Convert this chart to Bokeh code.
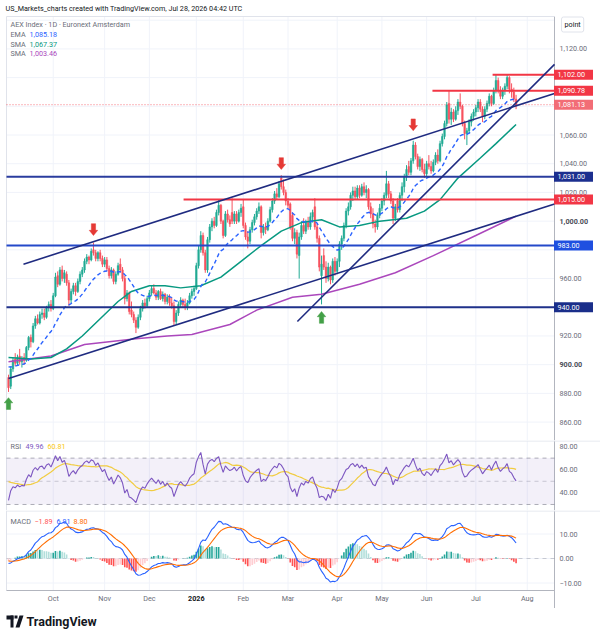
from bokeh.plotting import figure
from bokeh.layouts import column
from bokeh.models import (Range1d, Label, BoxAnnotation, PolyAnnotation, ColumnDataSource)
from bokeh.core.properties import value
from bokeh.embed import file_html
from bokeh.resources import INLINE

# ---------------- data (daily bars, Sep 2025 - Jul 2026) ----------------
open_ = [
    891, 885, 897, 904, 901, 906, 902, 905, 903, 912, 919, 916, 927, 932, 929, 935, 936, 933, 940, 942,
    939, 948, 962, 956, 966, 960, 963, 957, 945, 951, 955, 951, 958, 963, 966, 972, 975, 973, 980, 978, 974, 978, 974,
    970, 973, 967, 962, 966, 958, 963, 970, 966, 960, 946, 950, 938, 935, 931, 926, 933, 939, 943, 941,
    946, 950, 953, 950, 947, 951, 946, 949, 944, 947, 943, 941, 930, 936, 942, 945, 942, 940, 943, 948, 951,
    953, 969, 980, 990, 978, 966, 987, 996, 1000, 997, 1006, 1011, 1000, 990, 1005, 1001, 1006, 1000, 1005, 1000, 1006,
    1010, 997, 989, 986, 994, 999, 1003, 1007, 1010, 992, 996, 994, 1000, 1008, 1014, 1019, 1017, 1030, 1024, 1020,
    1014, 1012, 1004, 988, 992, 976, 989, 997, 993, 999, 996, 1003, 1010, 996, 988, 962, 976, 968, 960, 968, 959, 972,
    965, 972, 984, 988, 997, 1007, 1010, 1018, 1021, 1017, 1023, 1018, 1024, 1020, 1022, 1010, 1005, 998, 996, 1004,
    1009, 1014, 1018, 1026, 1019, 1014, 1002, 1014, 1008, 1018, 1024, 1031, 1038, 1034, 1042, 1053, 1045, 1038, 1043, 1036,
    1033, 1040, 1038, 1035, 1041, 1046, 1042, 1054, 1059, 1068, 1082, 1071, 1076, 1071, 1077, 1083, 1080, 1068, 1061, 1063, 1069, 1073,
    1076, 1079, 1083, 1078, 1073, 1078, 1082, 1087, 1082, 1091, 1098, 1091, 1087, 1091, 1094, 1100, 1092, 1090, 1085,
]
high = [
    893, 899, 905, 908, 907, 911, 906, 908, 913, 920, 921, 929, 934, 935, 937, 939, 939, 941, 944, 945,
    950, 964, 965, 968, 969, 966, 965, 959, 953, 957, 957, 960, 965, 968, 974, 977, 976, 981, 985, 980, 979, 980, 976,
    975, 975, 969, 968, 967, 965, 971, 974, 968, 962, 952, 951, 944, 937, 933, 935, 941, 945, 946, 948,
    952, 955, 956, 952, 952, 953, 951, 950, 949, 949, 947, 944, 938, 944, 947, 946, 946, 945, 950, 953, 955,
    971, 983, 993, 992, 980, 989, 998, 1002, 1003, 1008, 1015, 1012, 1001, 1007, 1008, 1004, 1016, 1007, 1007, 1008, 1012,
    1015, 999, 993, 996, 1001, 1005, 1009, 1013, 1011, 998, 999, 1002, 1010, 1016, 1021, 1023, 1028, 1032, 1029, 1022,
    1016, 1013, 1006, 995, 994, 992, 1000, 1002, 1001, 1003, 1006, 1008, 1016, 998, 990, 976, 981, 972, 971, 969, 974, 975,
    974, 986, 990, 999, 1009, 1013, 1020, 1024, 1024, 1025, 1025, 1026, 1027, 1025, 1023, 1013, 1009, 1001, 1006, 1012,
    1016, 1020, 1035, 1028, 1021, 1016, 1012, 1016, 1020, 1027, 1033, 1039, 1042, 1044, 1056, 1055, 1047, 1045, 1044, 1040,
    1042, 1046, 1042, 1043, 1048, 1050, 1056, 1061, 1070, 1083, 1091, 1079, 1078, 1080, 1085, 1089, 1081, 1070, 1065, 1071, 1075, 1078,
    1081, 1085, 1085, 1080, 1080, 1084, 1089, 1088, 1093, 1102, 1100, 1094, 1093, 1096, 1102, 1101, 1096, 1093, 1088,
]
low = [
    881, 883, 895, 899, 899, 900, 898, 900, 902, 910, 912, 915, 925, 928, 928, 932, 931, 932, 937, 937,
    938, 947, 954, 955, 958, 957, 955, 941, 943, 949, 948, 950, 956, 961, 964, 970, 970, 972, 976, 972, 972, 972, 968,
    968, 965, 960, 960, 956, 956, 962, 964, 958, 942, 944, 935, 933, 929, 922, 925, 931, 937, 939, 940,
    944, 948, 949, 945, 945, 945, 944, 942, 942, 941, 939, 927, 928, 934, 940, 940, 938, 938, 942, 946, 948,
    952, 967, 978, 976, 964, 964, 985, 993, 995, 996, 1004, 998, 988, 989, 999, 996, 998, 998, 998, 999, 1003,
    995, 987, 981, 984, 992, 997, 1001, 1005, 988, 990, 991, 993, 999, 1006, 1012, 1015, 1016, 1022, 1018, 1011,
    1009, 994, 986, 984, 974, 960, 987, 991, 991, 994, 994, 999, 994, 985, 965, 942, 966, 957, 958, 956, 957, 962,
    963, 968, 980, 986, 995, 1004, 1008, 1014, 1015, 1015, 1016, 1017, 1018, 1016, 1008, 1002, 995, 992, 994, 1002,
    1007, 1011, 1016, 1016, 1012, 998, 1000, 1006, 1006, 1014, 1020, 1028, 1032, 1032, 1040, 1043, 1036, 1035, 1034, 1030,
    1031, 1036, 1033, 1034, 1039, 1040, 1041, 1052, 1057, 1066, 1068, 1067, 1069, 1070, 1074, 1078, 1066, 1057, 1053, 1061, 1066, 1070,
    1073, 1076, 1076, 1069, 1071, 1076, 1080, 1080, 1081, 1089, 1089, 1085, 1085, 1088, 1092, 1089, 1086, 1083, 1078,
]
close = [
    884, 897, 903, 901, 905, 902, 904, 903, 912, 919, 916, 927, 932, 929, 935, 936, 933, 940, 942, 939,
    948, 961, 956, 966, 960, 964, 957, 945, 951, 955, 951, 958, 963, 966, 972, 975, 973, 979, 978, 974, 978, 974, 970,
    973, 967, 962, 966, 958, 963, 969, 966, 960, 946, 950, 937, 935, 931, 926, 933, 939, 943, 941, 946,
    950, 953, 950, 947, 951, 946, 949, 944, 947, 943, 941, 930, 936, 942, 945, 942, 940, 943, 948, 951, 953,
    969, 980, 990, 978, 966, 987, 996, 1000, 997, 1006, 1011, 1000, 990, 1005, 1001, 998, 1000, 1005, 1000, 1006, 1009,
    997, 989, 986, 994, 999, 1003, 1007, 1010, 992, 996, 994, 1000, 1008, 1014, 1019, 1017, 1026, 1024, 1020, 1014,
    1011, 996, 988, 992, 977, 989, 997, 993, 999, 996, 1003, 1006, 996, 988, 968, 970, 968, 960, 968, 959, 972, 965,
    972, 984, 988, 997, 1007, 1010, 1018, 1021, 1017, 1023, 1018, 1024, 1020, 1022, 1010, 1005, 998, 996, 1004, 1009,
    1014, 1018, 1026, 1019, 1014, 1002, 1010, 1008, 1018, 1024, 1031, 1036, 1034, 1042, 1053, 1045, 1038, 1043, 1036, 1033,
    1040, 1038, 1035, 1041, 1046, 1042, 1054, 1059, 1068, 1081, 1071, 1076, 1071, 1077, 1083, 1080, 1068, 1061, 1063, 1069, 1073, 1076,
    1079, 1083, 1078, 1073, 1078, 1082, 1087, 1082, 1091, 1098, 1091, 1087, 1091, 1094, 1100, 1092, 1090, 1085, 1081.13,
]

month_ticks = [20, 43, 63, 84, 105, 125, 147, 167, 187, 209, 232]
month_labels = ["Oct", "Nov", "Dec", "2026", "Feb", "Mar", "Apr", "May", "Jun", "Jul", "Aug"]
year_labels = ["2026"]

price_ticks = [860, 880, 920, 960, 1020, 1040, 1060, 1120]
price_tick_labels = ["860.00", "880.00", "920.00", "960.00", "1,020.00", "1,040.00", "1,060.00", "1,120.00"]
price_ticks_bold = [900, 1000]
price_tick_bold_labels = ["900.00", "1,000.00"]
price_grid = [860, 880, 900, 920, 940, 960, 980, 1000, 1020, 1040, 1060, 1080, 1100, 1120, 1140]
rsi_ticks = [40, 60, 80]
rsi_tick_labels = ["40.00", "60.00", "80.00"]
macd_ticks = [-10, 0, 10]
macd_tick_labels = ["\u221210.00", "0.00", "10.00"]

# moving averages (bar index, value)
sma50_x = [0, 10, 19, 26, 33, 41, 49, 55, 63, 70, 77, 86, 95, 104, 113, 122, 131, 140, 148, 157, 166, 178, 186, 193, 201, 211, 218, 227]
sma50_y = [905, 904, 905, 911, 920, 932, 944, 951, 955, 955, 953.5, 955, 961, 972, 983, 993, 999, 1001, 996, 997, 1000, 1002, 1007, 1015, 1030, 1044, 1054, 1067.37]
sma200_x = [0, 19, 34, 57, 71, 82, 99, 111, 127, 140, 157, 173, 190, 209, 227]
sma200_y = [902, 906, 914, 918, 920, 921, 928, 938, 947, 949, 956, 964, 976, 990, 1003.46]

ema_length = 20
ema_seed = 900.0
rsi_length = 14
rsi_prev_close = 890.0
rsi_seed_gain = 2.5
rsi_seed_loss = 4.5
rsi_ma_length = 14
rsi_ma_seed = 51.0
macd_fast, macd_slow, macd_sig = 12, 26, 9
macd_fast_seed = 898.0
macd_slow_seed = 899.0
macd_signal_seed = -0.7
rsi_levels = [70, 50, 30]

# drawings
blue_levels = [1031.0, 983.0, 940.0]
red_levels = [1015.0, 1090.78, 1102.0]
red_level_start = [78.3, 189.6, 216.5]
last_price = 1081.13
trend_x0 = [0.0, 6.7, 129.2]
trend_y0 = [890.4, 970.0, 930.1]
trend_x1 = [244.2, 244.2, 244.2]
trend_y1 = [1012.0, 1089.0, 1109.2]
arrow_down_x = [38, 122, 181]
arrow_down_y = [990.0, 1036.0, 1063.0]
arrow_up_x = [0, 140]
arrow_up_y = [877.0, 937.0]

price_label_values = [1102.00, 1090.78, 1081.13, 1031.00, 1015.00, 983.00, 940.00]
price_label_texts = ["1,102.00", "1,090.78", "1,081.13", "1,031.00", "1,015.00", "983.00", "940.00"]

title_text = "US_Markets_charts created with TradingView.com, Jul 28, 2026 04:42 UTC"
symbol_text = "AEX Index \u00b7 1D \u00b7 Euronext Amsterdam"
ma_names = ["EMA", "SMA", "SMA"]
ma_values = ["1,085.18", "1,067.37", "1,003.46"]
rsi_values = ["49.96", "60.81"]
macd_values = ["\u22121.89", "6.91", "8.80"]

# ---------------- styles / layout ----------------
FONT = "Roboto"
FS = "7.2px"
TXT = "#6a6d78"
DARK = "#131722"
UP, DN = "#22ab94", "#f7525f"
GRID = "#f0f3fa"
BORDER = "#e0e3eb"
AXIS = "#b2b5be"
blue_level_colors = ["#2a3c9e", "#2449c9", "#1f318a"]
red_line = "#f23645"
price_label_colors = [red_line, red_line, "#f26d76", "#1c2f8f", red_line, "#1f4fe0", "#1a2e8a"]
TREND = "#1f2b80"

W = 600
PX_PER_BAR = 2.236
X0 = -8 / PX_PER_BAR           # bar 0 sits at canvas x = 8
X1 = X0 + W / PX_PER_BAR


def bx(px):                     # canvas x (px) -> bar units
    return X0 + px / PX_PER_BAR


XL, XA = bx(6), bx(554)         # pane left border, price-scale border
X_TXT = bx(559)                 # left edge of scale texts
X_BOX = bx(573)                 # centre of price-label boxes

# main pane: canvas 0..440, 1.4353 px per point, 1120 at y=48.4
M_H, M_PPP = 440, 1.4353
M_TOP = 1120 + 48.4 / M_PPP
M_BOT = M_TOP - M_H / M_PPP
# rsi pane: canvas 440..510
R_H, R_TOP, R_BOT = 70, 85.2, 24.8
# macd pane: canvas 510..590, time scale 590..608
P_H, P_AX, P_TOP, P_BOT = 80, 18, 19.6, -13.06

# ---------------- derived series ----------------
n = len(close)
idx = list(range(n))


def ema(vals, length, seed):
    a = 2.0 / (length + 1)
    e = seed
    out = []
    for v in vals:
        e = e + a * (v - e)
        out.append(e)
    return out


ema20 = ema(close, ema_length, ema_seed)

rsi = []
ag, al, pc = rsi_seed_gain, rsi_seed_loss, rsi_prev_close
for c in close:
    ch = c - pc
    ag = (ag * (rsi_length - 1) + max(ch, 0)) / rsi_length
    al = (al * (rsi_length - 1) + max(-ch, 0)) / rsi_length
    rsi.append(100 - 100 / (1 + ag / al))
    pc = c
rsi_ma = []
for i in range(n):
    lo = max(0, i - rsi_ma_length + 1)
    window = rsi[lo:i + 1]
    missing = rsi_ma_length - len(window)
    rsi_ma.append((sum(window) + missing * rsi_ma_seed) / rsi_ma_length)

e_fast = ema(close, macd_fast, macd_fast_seed)
e_slow = ema(close, macd_slow, macd_slow_seed)
macd = [a - b for a, b in zip(e_fast, e_slow)]
signal = ema(macd, macd_sig, macd_signal_seed)
hist = [a - b for a, b in zip(macd, signal)]
hist_colors = []
prev = hist[0]
for h in hist:
    if h >= 0:
        hist_colors.append("#26a69a" if h >= prev else "#b2dfdb")
    else:
        hist_colors.append("#ff5252" if h < prev else "#ffcdd2")
    prev = h

xr = Range1d(X0, X1)


def pane(height, y0, y1):
    p = figure(width=W, height=height, x_range=xr, y_range=Range1d(y0, y1),
               output_backend="svg", toolbar_location=None,
               x_axis_location=None, y_axis_location=None, min_border=0,
               outline_line_color=None, background_fill_color="white",
               border_fill_color="white")
    p.xgrid.visible = False
    p.ygrid.visible = False
    return p


def texts(p, xs, ys, labels, color=TXT, size=FS, bold=False, align="left"):
    if not isinstance(xs, list):
        xs = [xs] * len(ys)
    p.text(x=xs, y=ys, text=labels, text_color=color,
           text_font=value(FONT), text_font_size=value(size), text_baseline="middle",
           text_align=align, text_font_style="bold" if bold else "normal")


def label(p, x, y, text, color=TXT, size=FS, bold=False):
    p.add_layout(Label(x=x, y=y, x_units="screen", y_units="screen", text=text,
                       text_color=color, text_font=FONT, text_font_size=size,
                       text_baseline="middle", text_font_style="bold" if bold else "normal"))


def frame_lines(p, y_top, y_bot, grid_vals=None, axis_bot=None):
    p.segment(x0=month_ticks, x1=month_ticks, y0=y_bot, y1=y_top, line_color=GRID, line_width=1)
    if grid_vals:
        p.segment(x0=XL, x1=XA, y0=grid_vals, y1=grid_vals, line_color=GRID, line_width=1)
    p.segment(x0=[XL], x1=[XL], y0=[y_bot], y1=[y_top], line_color=BORDER, line_width=1)
    p.segment(x0=[XA], x1=[XA], y0=[y_bot if axis_bot is None else axis_bot], y1=[y_top],
              line_color=AXIS, line_width=1)


# ---------------- main price pane ----------------
main = pane(M_H, M_BOT, M_TOP)
m_top_border = M_TOP - 16 / M_PPP
frame_lines(main, m_top_border, M_BOT, price_grid)
main.segment(x0=[XL], x1=[XA], y0=[m_top_border], y1=[m_top_border], line_color=BORDER, line_width=1)

colors = [UP if c >= o else DN for o, c in zip(open_, close)]
csrc = ColumnDataSource(dict(x=idx, o=open_, h=high, l=low, c=close,
                             top=[max(o, c) for o, c in zip(open_, close)],
                             bot=[min(o, c) for o, c in zip(open_, close)], col=colors))
main.segment(x0="x", y0="l", x1="x", y1="h", color="col", line_width=1, source=csrc)
main.vbar(x="x", top="top", bottom="bot", width=0.72, fill_color="col", line_color="col",
          line_width=0.5, source=csrc)

main.line(sma200_x, sma200_y, line_color="#ab47bc", line_width=1.5)
main.line(sma50_x, sma50_y, line_color="#089981", line_width=1.5)
main.line(idx, ema20, line_color="#2962ff", line_width=1.4, line_dash="4 3")

main.segment(x0=XL, x1=XA, y0=blue_levels, y1=blue_levels, line_color=blue_level_colors, line_width=2)
main.segment(x0=red_level_start, x1=XA, y0=red_levels, y1=red_levels, line_color=red_line, line_width=2)
main.segment(x0=[XL], x1=[XA], y0=[last_price], y1=[last_price], line_color=red_line,
             line_width=1, line_dash="1 2", line_alpha=0.7)
main.segment(x0=trend_x0, y0=trend_y0, x1=trend_x1, y1=trend_y1, line_color=TREND, line_width=1.6)

HW, SW, HH, SH = 1.9, 0.95, 3.6, 4.6
dxs, dys = [], []
for x, y in zip(arrow_down_x, arrow_down_y):
    dxs.append([x, x + HW, x + SW, x + SW, x - SW, x - SW, x - HW])
    dys.append([y, y + HH, y + HH, y + HH + SH, y + HH + SH, y + HH, y + HH])
main.patches(dxs, dys, fill_color="#e53935", line_color="#e53935", line_width=0.5)
uxs, uys = [], []
for x, y in zip(arrow_up_x, arrow_up_y):
    uxs.append([x, x + HW, x + SW, x + SW, x - SW, x - SW, x - HW])
    uys.append([y, y - HH, y - HH, y - HH - SH, y - HH - SH, y - HH, y - HH])
main.patches(uxs, uys, fill_color="#43a047", line_color="#43a047", line_width=0.5)

# price scale texts
texts(main, X_TXT, price_ticks, price_tick_labels)
texts(main, X_TXT, price_ticks_bold, price_tick_bold_labels, color="#4a4d58", bold=True)
main.rect(x=X_BOX, y=price_label_values, width=39, height=10, width_units="screen",
          height_units="screen", fill_color=price_label_colors, line_color=None)
texts(main, bx(557), price_label_values, price_label_texts, color="white")

# title, legend, unit box
label(main, 5, M_H - 8, title_text, color=DARK)
label(main, 10, M_H - 24, symbol_text)
for k, (nm, val, col) in enumerate(zip(ma_names, ma_values, ["#2962ff", "#089981", "#ab47bc"])):
    label(main, 10, M_H - 34 - 9.6 * k, nm)
    label(main, 29, M_H - 34 - 9.6 * k, val, color=col)
main.add_layout(Label(x=561, y=M_H - 24, x_units="screen", y_units="screen", text="point",
                      text_color=DARK, text_font=FONT, text_font_size=FS,
                      text_baseline="middle", border_line_color=BORDER,
                      background_fill_color="white", padding=3, border_radius=2))

# ---------------- RSI pane ----------------
rp = pane(R_H, R_BOT, R_TOP)
r_ppu = R_H / (R_TOP - R_BOT)
frame_lines(rp, R_TOP, R_BOT)
rp.segment(x0=[XL], x1=[X1], y0=[R_TOP - 0.5 / r_ppu], y1=[R_TOP - 0.5 / r_ppu], line_color=BORDER, line_width=1)
rp.add_layout(BoxAnnotation(left=XL, right=XA, bottom=30, top=70, fill_color="#7e57c2",
                            fill_alpha=0.09, line_color=None))
rp.segment(x0=XL, x1=XA, y0=rsi_levels, y1=rsi_levels, line_color="#787b86",
           line_dash="4 4", line_width=1, line_alpha=[0.6, 0.35, 0.6])
rp.line(idx, rsi_ma, line_color="#fdd835", line_width=1.2)
rp.line(idx, rsi, line_color="#7e57c2", line_width=1.1)
texts(rp, X_TXT, rsi_ticks, rsi_tick_labels)
label(rp, 10, R_H - 6, "RSI")
label(rp, 25, R_H - 6, rsi_values[0], color="#7e57c2")
label(rp, 47, R_H - 6, rsi_values[1], color="#f9c80e")

# ---------------- MACD pane + time scale ----------------
p_ppu = P_H / (P_TOP - P_BOT)
P_EXT = P_BOT - P_AX / p_ppu
mp = pane(P_H + P_AX, P_EXT, P_TOP)
frame_lines(mp, P_TOP, P_BOT, macd_ticks, axis_bot=P_EXT)
mp.segment(x0=[XL], x1=[X1], y0=[P_TOP - 0.5 / p_ppu], y1=[P_TOP - 0.5 / p_ppu], line_color=BORDER, line_width=1)
mp.segment(x0=[XL], x1=[XA], y0=[P_BOT], y1=[P_BOT], line_color=AXIS, line_width=1)
mp.segment(x0=[XL], x1=[XA], y0=[0], y1=[0], line_color="#787b86",
           line_dash="4 4", line_width=1, line_alpha=0.35)
mp.vbar(x=idx, top=hist, bottom=0, width=0.72, fill_color=hist_colors, line_color=None)
mp.line(idx, macd, line_color="#2962ff", line_width=1.1)
mp.line(idx, signal, line_color="#ff6d00", line_width=1.1)
texts(mp, X_TXT, macd_ticks, macd_tick_labels)
label(mp, 10, P_H + P_AX - 11, "MACD")
label(mp, 34, P_H + P_AX - 11, macd_values[0], color="#ff5252")
label(mp, 56, P_H + P_AX - 11, macd_values[1], color="#2962ff")
label(mp, 73, P_H + P_AX - 11, macd_values[2], color="#ff6d00")

# time-scale labels (year label bold)
y_time = P_BOT - 8 / p_ppu
reg = [(t, l) for t, l in zip(month_ticks, month_labels) if l not in year_labels]
yrs = [(t, l) for t, l in zip(month_ticks, month_labels) if l in year_labels]
texts(mp, [t for t, _ in reg], [y_time] * len(reg), [l for _, l in reg], align="center")
texts(mp, [t for t, _ in yrs], [y_time] * len(yrs), [l for _, l in yrs], color=DARK,
      bold=True, align="center")

# ---------------- footer with TradingView wordmark ----------------
F_H = 32
ft = figure(width=W, height=F_H, x_range=Range1d(0, W), y_range=Range1d(0, F_H),
            output_backend="svg", toolbar_location=None, x_axis_location=None,
            y_axis_location=None, min_border=0, outline_line_color=None,
            background_fill_color="white", border_fill_color="white")
ft.xgrid.visible = False
ft.ygrid.visible = False
for l_, r_, b_, t_ in [(6, 13, 21, 25), (10, 13, 13, 25), (14, 17, 22, 25)]:
    ft.add_layout(BoxAnnotation(left=l_, right=r_, bottom=b_, top=t_,
                                left_units="screen", right_units="screen",
                                bottom_units="screen", top_units="screen",
                                fill_color=DARK, fill_alpha=1, line_color=None))
ft.add_layout(PolyAnnotation(xs=[15, 19, 23, 19], ys=[13, 13, 25, 25],
                             xs_units="screen", ys_units="screen",
                             fill_color=DARK, fill_alpha=1, line_color=None))
label(ft, 26, 19, "TradingView", color=DARK, size="12.5px", bold=True)

layout = column(main, rp, mp, ft, spacing=0)
open("out.html", "w").write(file_html(layout, INLINE))
